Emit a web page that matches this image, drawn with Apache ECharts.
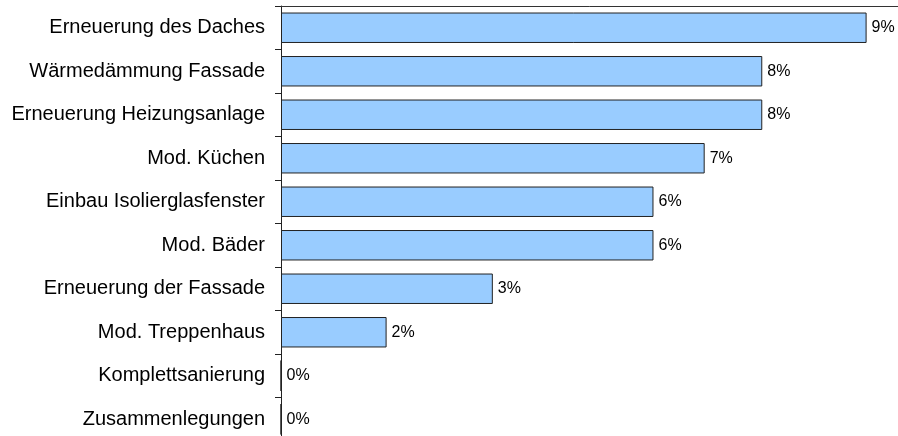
<!DOCTYPE html>
<html>
<head>
<meta charset="utf-8">
<script src="https://cdn.jsdelivr.net/npm/echarts@6/dist/echarts.min.js"></script>
<style>
  html, body { margin: 0; padding: 0; background: #fff; }
  #chart { width: 898px; height: 436px; }
</style>
</head>
<body>
<div id="chart"></div>
<script>
// Maßnahmen (von oben nach unten)
const categories = [
  "Erneuerung des Daches",
  "Wärmedämmung Fassade",
  "Erneuerung Heizungsanlage",
  "Mod. Küchen",
  "Einbau Isolierglasfenster",
  "Mod. Bäder",
  "Erneuerung der Fassade",
  "Mod. Treppenhaus",
  "Komplettsanierung",
  "Zusammenlegungen"
];
// Anteil in Prozent
const shares = [9.15, 7.52, 7.52, 6.62, 5.82, 5.82, 3.31, 1.65, 0, 0];

const chart = echarts.init(document.getElementById("chart"));
chart.setOption({
  animation: false,
  textStyle: { fontFamily: "Liberation Sans, Arial, sans-serif" },
  grid: { left: 281, top: 6, width: 640, height: 435, outerBoundsMode: "none" },
  xAxis: {
    type: "value",
    position: "top",
    min: 0,
    max: 10,
    axisLine: { show: true, lineStyle: { color: "#333", width: 1 } },
    axisTick: { show: false },
    axisLabel: { show: false },
    splitLine: { show: false }
  },
  yAxis: {
    type: "category",
    inverse: true,
    data: categories,
    axisLine: { show: true, lineStyle: { color: "#222", width: 1 } },
    axisTick: { show: true, length: 6, lineStyle: { color: "#222" } },
    axisLabel: { color: "#000", fontSize: 20, margin: 16 }
  },
  series: [
    {
      type: "bar",
      data: shares,
      barWidth: "70%",
      itemStyle: { color: "#99CCFF", borderColor: "#222", borderWidth: 1 },
      label: {
        show: true,
        position: "right",
        distance: 5,
        color: "#000",
        fontSize: 16,
        formatter: p => Math.round(p.value) + "%"
      }
    }
  ]
});
</script>
</body>
</html>
